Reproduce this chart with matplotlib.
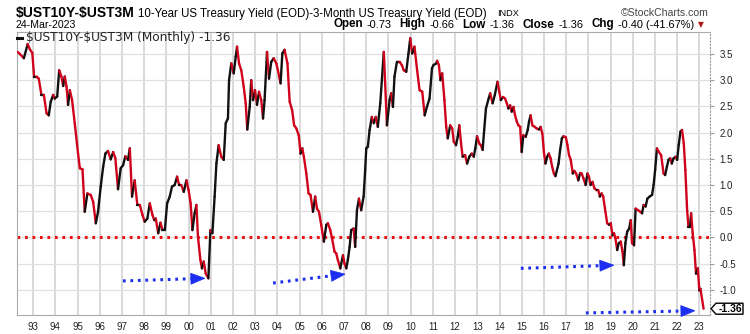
import matplotlib.pyplot as plt
import numpy as np
from matplotlib.collections import LineCollection
from matplotlib.lines import Line2D
from matplotlib.patches import Polygon

plt.rcParams['font.family'] = ['Liberation Sans', 'DejaVu Sans']
plt.rcParams['axes.unicode_minus'] = False

# month-end spread, 10Y minus 3M (percentage points), time in decimal years
t = [
    1992.30, 1992.40, 1992.58, 1992.75, 1992.85, 1992.96,
    1993.04, 1993.15, 1993.25, 1993.37, 1993.48, 1993.60, 1993.70, 1993.79, 1993.90, 1993.97,
    1994.08, 1994.17, 1994.27, 1994.35, 1994.42, 1994.50, 1994.57, 1994.65, 1994.75, 1994.87,
    1995.02, 1995.10, 1995.22, 1995.32, 1995.44, 1995.59, 1995.70, 1995.82, 1995.92,
    1996.04, 1996.15, 1996.25, 1996.37, 1996.49, 1996.60, 1996.70, 1996.82, 1996.94,
    1997.05, 1997.15, 1997.27, 1997.35, 1997.45, 1997.57, 1997.69, 1997.80, 1997.92,
    1998.02, 1998.14, 1998.25, 1998.37, 1998.45, 1998.52, 1998.63, 1998.73, 1998.82, 1998.93,
    1999.03, 1999.15, 1999.25, 1999.37, 1999.48, 1999.57, 1999.67, 1999.78, 1999.90,
    2000.00, 2000.09, 2000.17, 2000.27, 2000.35, 2000.42, 2000.53, 2000.60, 2000.68, 2000.77, 2000.89, 2000.98,
    2001.07, 2001.17, 2001.25, 2001.35, 2001.47, 2001.58, 2001.67, 2001.77, 2001.82, 2001.92,
    2002.03, 2002.12, 2002.18, 2002.27, 2002.37, 2002.48, 2002.57, 2002.64, 2002.75, 2002.82, 2002.90, 2002.99,
    2003.08, 2003.17, 2003.27, 2003.35, 2003.42, 2003.53, 2003.62, 2003.72, 2003.83, 2003.95,
    2004.02, 2004.14, 2004.22, 2004.32, 2004.45, 2004.55, 2004.66, 2004.75, 2004.85, 2004.96,
    2005.04, 2005.12, 2005.19, 2005.30, 2005.40, 2005.49, 2005.60, 2005.70, 2005.78, 2005.87, 2005.97,
    2006.09, 2006.20, 2006.27, 2006.38, 2006.50, 2006.57, 2006.65, 2006.72, 2006.83, 2006.95,
    2007.02, 2007.10, 2007.17, 2007.25, 2007.32, 2007.43, 2007.50, 2007.58, 2007.67, 2007.77, 2007.88, 2007.95,
    2008.00, 2008.07, 2008.15, 2008.25, 2008.34, 2008.43, 2008.52, 2008.63, 2008.79, 2008.93,
    2009.05, 2009.12, 2009.20, 2009.27, 2009.38, 2009.50, 2009.60, 2009.69, 2009.80, 2009.90, 2009.98,
    2010.07, 2010.17, 2010.29, 2010.40, 2010.52, 2010.63, 2010.73, 2010.85, 2010.96,
    2011.03, 2011.15, 2011.19, 2011.27, 2011.34, 2011.42, 2011.52, 2011.60, 2011.67, 2011.78, 2011.87, 2011.94,
    2012.04, 2012.12, 2012.19, 2012.27, 2012.34, 2012.45, 2012.54, 2012.64, 2012.75, 2012.84, 2012.91, 2012.99,
    2013.09, 2013.16, 2013.24, 2013.31, 2013.39, 2013.49, 2013.58, 2013.69, 2013.79, 2013.91, 2013.99,
    2014.06, 2014.16, 2014.25, 2014.33, 2014.40, 2014.48, 2014.55, 2014.63, 2014.70, 2014.78, 2014.85, 2014.93,
    2015.00, 2015.07, 2015.18, 2015.27, 2015.33, 2015.40, 2015.48, 2015.58, 2015.67, 2015.78, 2015.85, 2015.93,
    2016.00, 2016.07, 2016.15, 2016.22, 2016.30, 2016.37, 2016.45, 2016.52, 2016.66, 2016.73, 2016.81, 2016.88, 2016.99,
    2017.06, 2017.13, 2017.21, 2017.30, 2017.37, 2017.45, 2017.55, 2017.63, 2017.70, 2017.78, 2017.88, 2017.96,
    2018.03, 2018.10, 2018.19, 2018.27, 2018.37, 2018.45, 2018.52, 2018.60, 2018.67, 2018.75, 2018.85, 2018.94,
    2019.01, 2019.09, 2019.16, 2019.22, 2019.30, 2019.37, 2019.46, 2019.54, 2019.60, 2019.67, 2019.75, 2019.84, 2019.91, 2019.97,
    2020.06, 2020.13, 2020.24, 2020.34, 2020.42, 2020.49, 2020.58, 2020.66, 2020.76, 2020.87, 2020.94,
    2021.01, 2021.09, 2021.18, 2021.28, 2021.39, 2021.46, 2021.54, 2021.61, 2021.69, 2021.76, 2021.84, 2021.93,
    2022.00, 2022.07, 2022.15, 2022.22, 2022.30, 2022.37, 2022.45, 2022.51, 2022.58, 2022.63, 2022.70, 2022.78, 2022.85, 2022.93,
    2023.00, 2023.05, 2023.19,
]
spread = [
    3.54, 3.50, 3.42, 3.69, 3.59, 3.52,
    3.07, 3.07, 3.03, 2.72, 2.72, 2.37, 2.33, 2.59, 2.72, 2.65,
    2.69, 3.19, 3.07, 2.89, 3.07, 2.88, 2.53, 2.81, 2.62, 2.18,
    1.60, 1.32, 1.30, 0.49, 0.84, 0.81, 0.68, 0.27, 0.49,
    0.97, 1.35, 1.60, 1.65, 1.49, 1.63, 1.51, 0.92, 1.32,
    1.38, 1.55, 1.48, 1.70, 0.78, 1.09, 0.62, 0.62, 0.43,
    0.30, 0.36, 0.65, 0.43, 0.33, 0.36, 0.08, 0.28, 0.15, 0.15,
    0.65, 0.78, 0.97, 1.00, 1.16, 1.00, 1.00, 0.87, 1.09,
    0.90, 0.65, 0.14, 0.46, 0.62, 0.01, -0.43, -0.59, -0.46, -0.69, -0.78, 0.14,
    0.08, 0.78, 1.41, 1.76, 1.54, 1.48, 2.18, 2.27, 3.00, 3.32,
    3.13, 3.45, 3.64, 3.32, 3.19, 2.88, 2.56, 2.06, 2.49, 3.00, 2.62, 2.81,
    2.53, 2.78, 2.62, 2.27, 2.62, 3.54, 3.03, 3.35, 3.42, 3.32,
    3.19, 2.94, 3.51, 3.58, 3.32, 2.59, 2.43, 2.14, 2.08, 1.95,
    1.60, 1.70, 1.54, 1.22, 0.84, 0.81, 0.49, 0.78, 0.55, 0.49, 0.24,
    -0.08, 0.24, 0.27, 0.14, -0.11, -0.27, -0.31, -0.43, -0.59, -0.34,
    -0.50, -0.59, -0.43, -0.18, 0.14, 0.17, -0.18, 0.52, 0.74, 0.52, 0.78, 1.29,
    1.70, 1.73, 2.05, 2.30, 2.18, 2.30, 2.11, 2.56, 3.54, 2.14,
    2.62, 2.75, 2.49, 3.07, 3.35, 3.35, 3.29, 3.19, 3.16, 3.51, 3.80,
    3.51, 3.64, 3.19, 2.81, 2.78, 2.33, 2.49, 2.65, 3.23,
    3.29, 3.32, 3.37, 3.29, 3.00, 3.13, 2.62, 2.11, 1.89, 2.14, 2.08, 1.83,
    1.76, 1.92, 2.14, 1.79, 1.54, 1.57, 1.41, 1.54, 1.60, 1.54, 1.70, 1.93,
    1.79, 1.76, 1.67, 2.05, 2.46, 2.62, 2.75, 2.56, 2.72, 2.97, 2.78,
    2.62, 2.68, 2.65, 2.56, 2.46, 2.52, 2.40, 2.49, 2.33, 2.21, 2.14, 2.11,
    1.63, 1.95, 1.92, 2.05, 2.21, 2.33, 2.14, 2.11, 2.08, 2.06, 2.11, 1.98,
    1.63, 1.41, 1.54, 1.60, 1.51, 1.35, 1.22, 1.17, 1.41, 1.67, 1.89, 1.93, 1.91,
    1.76, 1.57, 1.48, 1.22, 1.27, 1.22, 1.09, 1.23, 1.22, 1.13, 1.00, 1.22,
    1.16, 1.00, 1.06, 0.94, 0.90, 0.90, 0.78, 0.84, 0.78, 0.55, 0.27, 0.24,
    0.27, 0.04, 0.08, -0.02, -0.24, -0.11, -0.08, -0.27, -0.53, -0.11, 0.11, 0.17, 0.33, -0.11,
    -0.15, 0.55, 0.52, 0.49, 0.46, 0.62, 0.59, 0.74, 0.78, 0.81, 1.00,
    1.29, 1.70, 1.63, 1.57, 1.22, 1.19, 1.35, 1.48, 1.51, 1.41, 1.51, 1.54,
    1.48, 1.76, 2.02, 2.05, 1.79, 1.29, 0.52, 0.20, 0.20, 0.46, 0.08, -0.24, -0.69, -0.59,
    -1.01, -0.98, -1.36,
]

last_value = -1.36
year_ticks = list(range(1993, 2024))
year_labels = [f'{y % 100:02d}' for y in year_ticks]
value_ticks = [-1.0, -0.5, 0.0, 0.5, 1.0, 1.5, 2.0, 2.5, 3.0, 3.5]

# blue dotted arrows pointing at the inversions
arrow_from = [(1997.04, -0.83), (2003.80, -0.87), (2014.96, -0.59), (2017.89, -1.44)]
arrow_to = [(2000.73, -0.78), (2007.04, -0.70), (2019.15, -0.53), (2022.80, -1.40)]

W, H = 750, 334
BLUE = '#1c2ef0'


def fx(px):
    return px / W


def fy(py):
    return 1 - py / H


fig = plt.figure(figsize=(W / 100, H / 100), dpi=100)
ax = fig.add_axes([fx(17), fy(315), (710 - 17) / W, (315 - 32) / H])
ax.set_xlim(1992.27, 2023.48)
ax.set_ylim(-1.48, 3.92)

# line is black on up-moves and red on down-moves
pts = np.column_stack([t, spread])
segs = np.stack([pts[:-1], pts[1:]], axis=1)
up = np.diff(spread) >= 0
colors = np.where(up, '#111111', '#d0021b')
lc = LineCollection(segs, colors=colors, linewidths=1.7, capstyle='round', joinstyle='round', zorder=3)
ax.add_collection(lc)

ax.axhline(0, color='#ee1111', lw=2.2, ls=(0, (0.9, 1.55)), zorder=2)

ax.set_xticks(year_ticks)
ax.set_xticklabels(year_labels)
ax.set_yticks(value_ticks)
ax.set_yticklabels([f'{v:.1f}' for v in value_ticks])
ax.yaxis.tick_right()
ax.tick_params(axis='x', length=0, pad=5, labelsize=7, labelcolor='#222222')
ax.tick_params(axis='y', length=3, width=0.8, color='#999999', pad=4, labelsize=7, labelcolor='#222222')
ax.grid(axis='x', color='#cfcfcf', lw=1.1)
ax.grid(axis='y', color='#e0e0e0', lw=0.9)
ax.set_axisbelow(True)
for side in ['left', 'top', 'bottom']:
    ax.spines[side].set_color('#aaaaaa')
ax.spines['right'].set_color('#999999')
ax.spines['right'].set_linestyle((0, (1, 2)))

fig.canvas.draw()
to_fig = fig.transFigure.inverted()

# arrows: dotted shaft plus a solid triangular head
head_len, head_half = 14, 5.5
for (x0, y0), (x1, y1) in zip(arrow_from, arrow_to):
    p0 = ax.transData.transform((x0, y0))
    p1 = ax.transData.transform((x1, y1))
    d = (p1 - p0) / np.hypot(*(p1 - p0))
    n = np.array([-d[1], d[0]])
    base = p1 - d * head_len
    shaft = to_fig.transform([p0, base])
    fig.add_artist(Line2D(shaft[:, 0], shaft[:, 1], color=BLUE, lw=2.2,
                          ls=(0, (0.9, 1.55)), solid_capstyle='butt'))
    tri = to_fig.transform([p1, base + n * head_half, base - n * head_half])
    fig.add_artist(Polygon(tri, closed=True, facecolor=BLUE, edgecolor=BLUE, lw=0.5))

# legend row inside the plot
fig.add_artist(Line2D([fx(17), fx(22)], [fy(37.5), fy(37.5)], color='#111111', lw=2.2))
fig.text(fx(26), fy(41.5), r'\$UST10Y-\$UST3M (Monthly) -1.36', family='DejaVu Sans',
         fontsize=8.7, va='baseline', color='#222222')

# last value tag at the right axis
yc = ax.transData.transform((2023.48, last_value))[1]
xr = ax.transAxes.transform((1, 0))[0]
tag = [(xr + 1, yc), (xr + 6, yc + 5.5), (xr + 33, yc + 5.5), (xr + 33, yc - 5.5), (xr + 6, yc - 5.5)]
fig.add_artist(Polygon(to_fig.transform(tag), closed=True, facecolor='white', edgecolor='black', lw=1.0))
fig.text(fx(xr + 20), yc / H, '-1.36', fontsize=7.5, weight='bold', ha='center', va='center')

# header
fig.text(fx(16), fy(16.5), r'\$UST10Y-\$UST3M', fontsize=10, weight='bold', va='baseline')
fig.text(fx(138), fy(16.5), '10-Year US Treasury Yield (EOD)-3-Month US Treasury Yield (EOD)',
         fontsize=8.3, va='baseline')
fig.text(fx(497), fy(16.5), 'INDX', fontsize=6.6, va='baseline')
fig.text(fx(709), fy(15.5), '\u00a9StockCharts.com', fontsize=7.6, ha='right', va='baseline', color='#444444')
fig.text(fx(16), fy(27.5), '24-Mar-2023', fontsize=7.6, va='baseline')

pieces = [('Open', 'bold', 4), ('-0.73', 'normal', 8), ('High', 'bold', 4), ('-0.66', 'normal', 8),
          ('Low', 'bold', 4), ('-1.36', 'normal', 8), ('Close', 'bold', 4), ('-1.36', 'normal', 8),
          ('Chg', 'bold', 4), ('-0.40 (-41.67%)', 'normal', 3)]
renderer = fig.canvas.get_renderer()
xpos = 333
for txt, wt, gap in pieces:
    tt = fig.text(fx(xpos), fy(27.5), txt, fontsize=8.4 if wt == 'bold' else 7.9, weight=wt, va='baseline')
    xpos += tt.get_window_extent(renderer).width + gap
fig.text(fx(xpos + 1), fy(27.5), '\u25bc', family='DejaVu Sans', fontsize=5.5, color='#b01818', va='baseline')

fig.savefig('out.png', dpi=100)
